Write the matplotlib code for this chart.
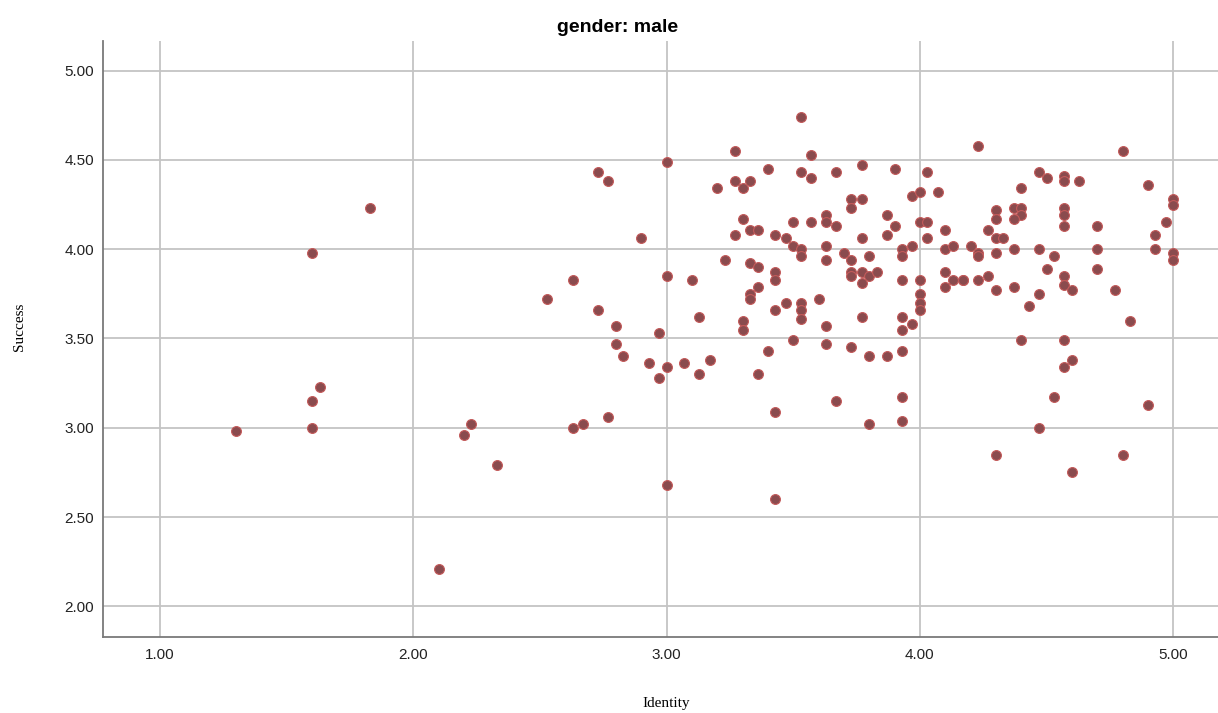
import matplotlib.pyplot as plt

identity = [1.83, 1.60, 1.63, 1.60, 1.60, 1.30, 2.23, 2.20, 2.33, 2.10,
            3.27, 3.00, 2.73, 2.77, 3.20, 3.27, 3.30, 3.33, 3.30, 3.27,
            3.33, 3.36, 2.90, 3.23, 3.33, 3.36, 3.00, 3.10, 2.63, 3.36,
            3.33, 3.33, 2.53, 2.73, 3.13, 3.30, 3.30, 2.80, 2.97, 2.80,
            2.83, 2.93, 3.00, 2.97, 3.07, 3.17, 3.13, 3.36, 2.77, 2.63,
            2.67, 3.00,
            3.53, 3.57, 3.77, 3.40, 3.53, 3.57, 3.67, 3.90, 4.03, 3.97,
            4.00, 4.07, 3.73, 3.77, 3.73, 3.63, 3.63, 3.67, 3.87, 3.90,
            3.87, 3.50, 3.57, 4.00, 4.03, 4.10, 3.43, 3.47, 3.77, 4.03,
            3.50, 3.53, 3.53, 3.63, 3.63, 3.70, 3.73, 3.80, 3.93, 3.93,
            3.97, 4.10, 4.13, 4.20, 3.43, 3.43, 3.47, 3.43, 3.53, 3.53,
            3.53, 3.60, 3.73, 3.77, 3.80, 3.83, 3.77, 3.73, 3.93, 4.00,
            4.00, 4.00, 4.00, 4.10, 4.13, 4.17, 4.10, 3.63, 3.77, 3.93,
            3.97, 3.93, 3.50, 3.63, 3.40, 3.73, 3.80, 3.87, 3.93,
            3.67, 3.93, 3.93, 3.43, 3.80, 3.43,
            4.23, 4.80, 4.47, 4.50, 4.57, 4.57, 4.63, 4.90, 4.40, 5.00,
            5.00, 4.30, 4.30, 4.37, 4.40, 4.40, 4.37, 4.57, 4.57, 4.57,
            4.70, 4.97, 4.93, 4.27, 4.30, 4.33, 4.23, 4.23, 4.30, 4.37,
            4.47, 4.70, 4.93, 5.00, 5.00, 4.53, 4.50, 4.70, 4.17, 4.23,
            4.27, 4.57, 4.57, 4.60, 4.30, 4.37, 4.47, 4.43, 4.77, 4.83,
            4.40, 4.57,
            4.60, 4.57, 4.53, 4.90, 4.47, 4.30, 4.80, 4.60]

success = [4.23, 3.98, 3.23, 3.15, 3.00, 2.98, 3.02, 2.96, 2.79, 2.21,
           4.55, 4.49, 4.43, 4.38, 4.34, 4.38, 4.34, 4.38, 4.17, 4.08,
           4.11, 4.11, 4.06, 3.94, 3.92, 3.90, 3.85, 3.83, 3.83, 3.79,
           3.75, 3.72, 3.72, 3.66, 3.62, 3.60, 3.55, 3.57, 3.53, 3.47,
           3.40, 3.36, 3.34, 3.28, 3.36, 3.38, 3.30, 3.30, 3.06, 3.00,
           3.02, 2.68,
           4.74, 4.53, 4.47, 4.45, 4.43, 4.40, 4.43, 4.45, 4.43, 4.30,
           4.32, 4.32, 4.28, 4.28, 4.23, 4.19, 4.15, 4.13, 4.19, 4.13,
           4.08, 4.15, 4.15, 4.15, 4.15, 4.11, 4.08, 4.06, 4.06, 4.06,
           4.02, 4.00, 3.96, 4.02, 3.94, 3.98, 3.94, 3.96, 4.00, 3.96,
           4.02, 4.00, 4.02, 4.02, 3.87, 3.83, 3.70, 3.66, 3.70, 3.66,
           3.61, 3.72, 3.87, 3.87, 3.85, 3.87, 3.81, 3.85, 3.83, 3.83,
           3.75, 3.70, 3.66, 3.87, 3.83, 3.83, 3.79, 3.57, 3.62, 3.62,
           3.58, 3.55, 3.49, 3.47, 3.43, 3.45, 3.40, 3.40, 3.43,
           3.15, 3.17, 3.04, 3.09, 3.02, 2.60,
           4.58, 4.55, 4.43, 4.40, 4.41, 4.38, 4.38, 4.36, 4.34, 4.28,
           4.25, 4.22, 4.17, 4.23, 4.23, 4.19, 4.17, 4.23, 4.19, 4.13,
           4.13, 4.15, 4.08, 4.11, 4.06, 4.06, 3.98, 3.96, 3.98, 4.00,
           4.00, 4.00, 4.00, 3.98, 3.94, 3.96, 3.89, 3.89, 3.83, 3.83,
           3.85, 3.85, 3.80, 3.77, 3.77, 3.79, 3.75, 3.68, 3.77, 3.60,
           3.49, 3.49,
           3.38, 3.34, 3.17, 3.13, 3.00, 2.85, 2.85, 2.75]

x_ticks = [1.0, 2.0, 3.0, 4.0, 5.0]
y_ticks = [2.0, 2.5, 3.0, 3.5, 4.0, 4.5, 5.0]

fig = plt.figure(figsize=(12.18, 7.13), dpi=100)
ax = fig.add_axes([0.0843, 0.107, 0.9157, 0.835])

ax.scatter(identity, success, s=50, facecolor='#8a4b4e', edgecolor='#c45a5a',
           linewidth=0.8, zorder=3)

ax.set_xlim(0.774, 5.177)
ax.set_ylim(1.83, 5.164)
ax.set_xticks(x_ticks)
ax.set_yticks(y_ticks)
ax.set_xticklabels([f'{v:.2f}' for v in x_ticks], family='Liberation Sans', fontsize=11)
ax.set_yticklabels([f'{v:.2f}' for v in y_ticks], family='Liberation Sans', fontsize=11)
ax.tick_params(length=0, colors='#222222')
ax.tick_params(axis='x', pad=8)
ax.tick_params(axis='y', pad=6)

ax.grid(True, color='#c4c4c4', linewidth=1.3, zorder=0)
ax.set_axisbelow(True)
for side in ['top', 'right']:
    ax.spines[side].set_visible(False)
for side in ['left', 'bottom']:
    ax.spines[side].set_color('#7a7a7a')
    ax.spines[side].set_linewidth(1.3)

ax.set_title('gender: male', family='Liberation Sans', fontsize=14,
             fontweight='bold', x=0.462, pad=7)
ax.set_xlabel('Identity', family='Liberation Serif', fontsize=11)
ax.set_ylabel('Success', family='Liberation Serif', fontsize=11)
ax.xaxis.set_label_coords(0.505, -0.102)
ax.yaxis.set_label_coords(-0.069, 0.52)

fig.savefig('out.png', dpi=100)
